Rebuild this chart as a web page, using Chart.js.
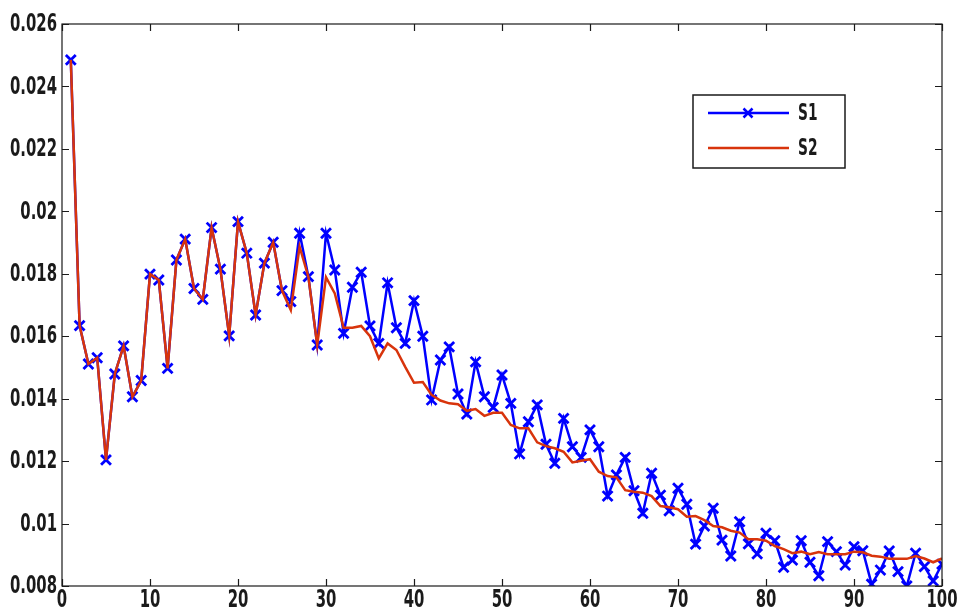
<!DOCTYPE html>
<html>
<head>
<meta charset="utf-8">
<script src="https://cdn.jsdelivr.net/npm/chart.js@4.4.0/dist/chart.umd.min.js"></script>
<style>
  html, body { margin: 0; padding: 0; background: #fff; }
  #wrap { width: 958px; height: 615px; }
</style>
</head>
<body>
<div id="wrap"><canvas id="lineChart" width="958" height="615"></canvas></div>
<script>
// values, one per step 1..100
const s1Values = [
  0.02485, 0.01634, 0.01511, 0.01531, 0.01204, 0.01479, 0.01569, 0.01406, 0.01458, 0.01799,
  0.01780, 0.01497, 0.01844, 0.01911, 0.01753, 0.01718, 0.01948, 0.01815, 0.01601, 0.01967,
  0.01866, 0.01668, 0.01834, 0.01901, 0.01746, 0.01711, 0.01930, 0.01791, 0.01572, 0.01930,
  0.01812, 0.01609, 0.01757, 0.01805, 0.01633, 0.01577, 0.01771, 0.01627, 0.01577, 0.01714,
  0.01600, 0.01396, 0.01524, 0.01566, 0.01415, 0.01351, 0.01518, 0.01406, 0.01372, 0.01476,
  0.01385, 0.01223, 0.01326, 0.01380, 0.01254, 0.01193, 0.01337, 0.01246, 0.01212, 0.01300,
  0.01246, 0.01088, 0.01156, 0.01212, 0.01105, 0.01033, 0.01161, 0.01091, 0.01041, 0.01113,
  0.01062, 0.00934, 0.00992, 0.01049, 0.00947, 0.00896, 0.01006, 0.00935, 0.00903, 0.00969,
  0.00945, 0.00860, 0.00883, 0.00945, 0.00876, 0.00833, 0.00942, 0.00910, 0.00867, 0.00926,
  0.00913, 0.00806, 0.00851, 0.00912, 0.00846, 0.00800, 0.00905, 0.00862, 0.00816, 0.00870
];

const s2Values = [
  0.02485, 0.01634, 0.01511, 0.01531, 0.01204, 0.01479, 0.01569, 0.01406, 0.01458, 0.01799,
  0.01780, 0.01497, 0.01844, 0.01911, 0.01753, 0.01718, 0.01948, 0.01815, 0.01601, 0.01967,
  0.01866, 0.01668, 0.01834, 0.01901, 0.01746, 0.01684, 0.01887, 0.01790, 0.01572, 0.01789,
  0.01737, 0.01627, 0.01627, 0.01633, 0.01600, 0.01529, 0.01577, 0.01556, 0.01502, 0.01451,
  0.01453, 0.01412, 0.01394, 0.01385, 0.01382, 0.01361, 0.01367, 0.01345, 0.01355, 0.01355,
  0.01316, 0.01305, 0.01305, 0.01260, 0.01248, 0.01241, 0.01230, 0.01196, 0.01201, 0.01206,
  0.01166, 0.01152, 0.01148, 0.01107, 0.01102, 0.01099, 0.01088, 0.01056, 0.01052, 0.01046,
  0.01022, 0.01024, 0.01011, 0.00992, 0.00988, 0.00977, 0.00971, 0.00950, 0.00950, 0.00945,
  0.00928, 0.00918, 0.00905, 0.00910, 0.00902, 0.00909, 0.00902, 0.00902, 0.00902, 0.00910,
  0.00908, 0.00897, 0.00894, 0.00887, 0.00887, 0.00887, 0.00896, 0.00888, 0.00876, 0.00888
];

const seriesNames = ["S1", "S2"];
const xTicks = [0, 10, 20, 30, 40, 50, 60, 70, 80, 90, 100];
const yTicks = [0.008, 0.01, 0.012, 0.014, 0.016, 0.018, 0.02, 0.022, 0.024, 0.026];

const BLUE = "#0000ff";
const RED = "#d8340c";
const INK = "#1a1a1a";
const FONT = "'DejaVu Sans', sans-serif";

function toPoints(values) {
  return values.map(function (v, i) {
    return { x: i + 1, y: v };
  });
}

function fmt(v) {
  return String(Number(Number(v).toFixed(3)));
}

// the original uses a tall, narrow face; squeeze a regular one horizontally
function narrowText(ctx, text, x, y, align, baseline, font, squeeze) {
  ctx.save();
  ctx.translate(x, y);
  ctx.scale(squeeze, 1);
  ctx.font = font;
  ctx.textAlign = align;
  ctx.textBaseline = baseline;
  ctx.fillStyle = INK;
  ctx.fillText(text, 0, 0);
  ctx.restore();
}

// box with inward tick marks on all four sides, plus the tick labels
const boxPlugin = {
  id: "boxTicks",
  afterDraw: function (chart) {
    const ctx = chart.ctx;
    const a = chart.chartArea;
    const xs = chart.scales.x;
    const ys = chart.scales.y;
    const len = 7;
    const tickFont = "bold 24px " + FONT;

    ctx.save();
    ctx.strokeStyle = INK;
    ctx.lineWidth = 1.2;
    ctx.strokeRect(a.left, a.top, a.right - a.left, a.bottom - a.top);

    ctx.beginPath();
    xTicks.forEach(function (t) {
      const px = Math.round(xs.getPixelForValue(t)) + 0.5;
      ctx.moveTo(px, a.bottom);
      ctx.lineTo(px, a.bottom - len);
      ctx.moveTo(px, a.top);
      ctx.lineTo(px, a.top + len);
    });
    yTicks.forEach(function (t) {
      const py = Math.round(ys.getPixelForValue(t)) + 0.5;
      ctx.moveTo(a.left, py);
      ctx.lineTo(a.left + len, py);
      ctx.moveTo(a.right, py);
      ctx.lineTo(a.right - len, py);
    });
    ctx.stroke();
    ctx.restore();

    xTicks.forEach(function (t) {
      narrowText(ctx, fmt(t), xs.getPixelForValue(t), a.bottom + 3, "center", "top", tickFont, 0.62);
    });
    yTicks.forEach(function (t) {
      narrowText(ctx, fmt(t), a.left - 5, ys.getPixelForValue(t) + 1, "right", "middle", tickFont, 0.62);
    });
  },
};

// legend box placed inside the plot, upper right
const legendPlugin = {
  id: "insideLegend",
  afterDraw: function (chart) {
    const ctx = chart.ctx;
    const bx = 693, by = 95, bw = 152, bh = 73;

    ctx.save();
    ctx.fillStyle = "#fff";
    ctx.fillRect(bx, by, bw, bh);
    ctx.strokeStyle = INK;
    ctx.lineWidth = 1.5;
    ctx.strokeRect(bx, by, bw, bh);

    chart.data.datasets.forEach(function (ds, i) {
      const y = by + 18 + i * 35;
      ctx.strokeStyle = ds.borderColor;
      ctx.lineWidth = 2.5;
      ctx.beginPath();
      ctx.moveTo(bx + 15, y);
      ctx.lineTo(bx + 96, y);
      ctx.stroke();
      if (ds.pointRadius > 0) {
        const r = 4.5;
        const cx = bx + 55;
        ctx.beginPath();
        ctx.moveTo(cx - r, y - r);
        ctx.lineTo(cx + r, y + r);
        ctx.moveTo(cx + r, y - r);
        ctx.lineTo(cx - r, y + r);
        ctx.stroke();
      }
      narrowText(ctx, ds.label, bx + 105, y + 1, "left", "middle", "bold 23px " + FONT, 0.6);
    });
    ctx.restore();
  },
};

const ctx = document.getElementById("lineChart").getContext("2d");

new Chart(ctx, {
  type: "line",
  data: {
    datasets: [
      {
        label: seriesNames[0],
        data: toPoints(s1Values),
        borderColor: BLUE,
        backgroundColor: BLUE,
        borderWidth: 2.5,
        pointStyle: "crossRot",
        pointRadius: 7,
        pointBorderWidth: 2.8,
        pointBorderColor: BLUE,
        tension: 0,
        order: 1,
      },
      {
        label: seriesNames[1],
        data: toPoints(s2Values),
        borderColor: RED,
        backgroundColor: RED,
        borderWidth: 2.5,
        pointRadius: 0,
        tension: 0,
        order: 0,
      },
    ],
  },
  options: {
    responsive: false,
    animation: false,
    events: [],
    layout: {
      padding: { top: 24, right: 16, left: 0, bottom: 0 },
    },
    plugins: {
      legend: { display: false },
      tooltip: { enabled: false },
    },
    scales: {
      x: {
        type: "linear",
        min: 0,
        max: 100,
        afterBuildTicks: function (scale) {
          scale.ticks = xTicks.map(function (v) { return { value: v }; });
        },
        afterFit: function (scale) {
          scale.height = 29;
        },
        grid: { display: false },
        border: { display: false },
        ticks: { display: false },
      },
      y: {
        type: "linear",
        min: 0.008,
        max: 0.026,
        afterBuildTicks: function (scale) {
          scale.ticks = yTicks.map(function (v) { return { value: v }; });
        },
        afterFit: function (scale) {
          scale.width = 62;
        },
        grid: { display: false },
        border: { display: false },
        ticks: { display: false },
      },
    },
  },
  plugins: [boxPlugin, legendPlugin],
});
</script>
</body>
</html>
